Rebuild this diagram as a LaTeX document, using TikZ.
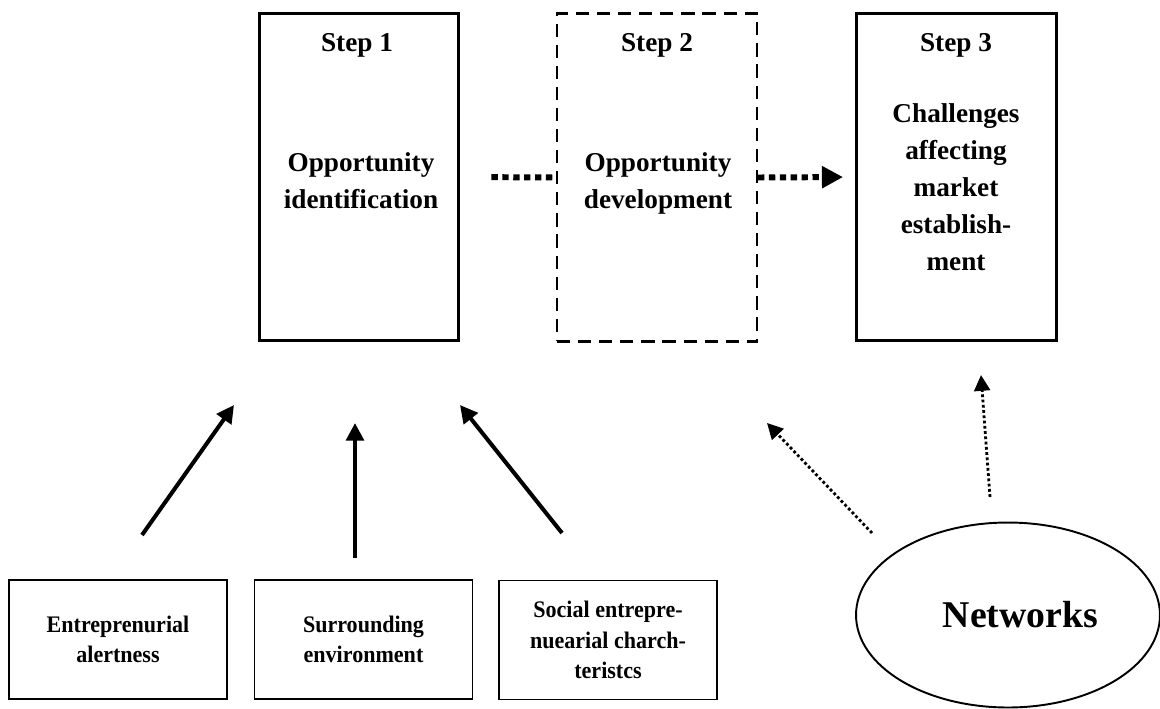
\documentclass[tikz,border=0pt]{standalone}
\usepackage{fontspec}
\setmainfont{Liberation Serif}
\newfontfamily\narrowserif[FakeStretch=0.93]{Liberation Serif}
\usetikzlibrary{arrows.meta,shapes.geometric}
\tikzset{
    stepbox/.style={draw, line width=1.7pt, minimum width=4cm, minimum height=6.56cm},
    openbox/.style={draw, line width=1.2pt, dash pattern=on 7.5pt off 4.5pt, minimum width=4cm, minimum height=6.56cm},
    factorbox/.style={draw, line width=0.8pt, minimum width=4.36cm, minimum height=2.38cm, align=center, font=\narrowserif\bfseries\fontsize{13.5}{17.2}\selectfont},
    steptext/.style={align=center, font=\bfseries\fontsize{15.5}{21}\selectfont},
    flow/.style={line width=3.4pt, dash pattern=on 3.6pt off 2.6pt},
    push/.style={line width=2.3pt, -{Triangle[length=10pt,width=10pt]}},
    link/.style={line width=1.6pt, dash pattern=on 1.6pt off 1.4pt, -{Triangle[length=9pt,width=9pt]}}
}
\begin{document}
\begin{tikzpicture}[x=0.02cm, y=-0.02cm]
            \useasboundingbox (0,0) rectangle (1160,708);
            % the three steps
            \node [stepbox] (s1) at (359,177) {};
            \node [openbox] (s2) at (657,177.5) {};
            \node [stepbox] (s3) at (956.5,177) {};
            \node [steptext] (t1) at (357,45) {Step 1};
            \node [steptext] (t2) at (657,45) {Step 2};
            \node [steptext] (t3) at (956,45) {Step 3};
            \node [steptext] (m1) at (361,181) {Opportunity\\identification};
            \node [steptext] (m2) at (658,183) {Opportunity\\development};
            \node [steptext] (m3) at (956,187) {Challenges\\affecting\\market\\establish-\\ment};
            \draw [flow, shorten <=0.62cm] (s1.east) -- (s2.west);
            \draw [flow, shorten >=0.24cm, -{Triangle[length=12pt,width=12pt]}] (s2.east) -- (s3.west);
            % factors below
            \node [factorbox] (f1) at (118,639.5) {Entreprenurial\\alertness};
            \node [factorbox] (f2) at (363.5,639.5) {Surrounding\\environment};
            \node [factorbox] (f3) at (608,640) {Social entrepre-\\nuearial charch-\\teristcs};
            \node [draw, ellipse, line width=1.1pt, minimum width=6.08cm, minimum height=3.7cm, font=\bfseries\fontsize{21.5}{24}\selectfont] (net) at (1008,615) {\hspace{0.5cm}Networks};
            \coordinate (a1) at (142,535);
            \coordinate (b1) at (234,405);
            \coordinate (a2) at (355,558);
            \coordinate (b2) at (355,423);
            \coordinate (a3) at (562,533);
            \coordinate (b3) at (460,405);
            \coordinate (a4) at (872,533);
            \coordinate (b4) at (767,423);
            \coordinate (a5) at (990,497);
            \coordinate (b5) at (981,375);
            \draw [push] (a1) -- (b1);
            \draw [push] (a2) -- (b2);
            \draw [push] (a3) -- (b3);
            \draw [link] (a4) -- (b4);
            \draw [link] (a5) -- (b5);
        \end{tikzpicture}
\end{document}
